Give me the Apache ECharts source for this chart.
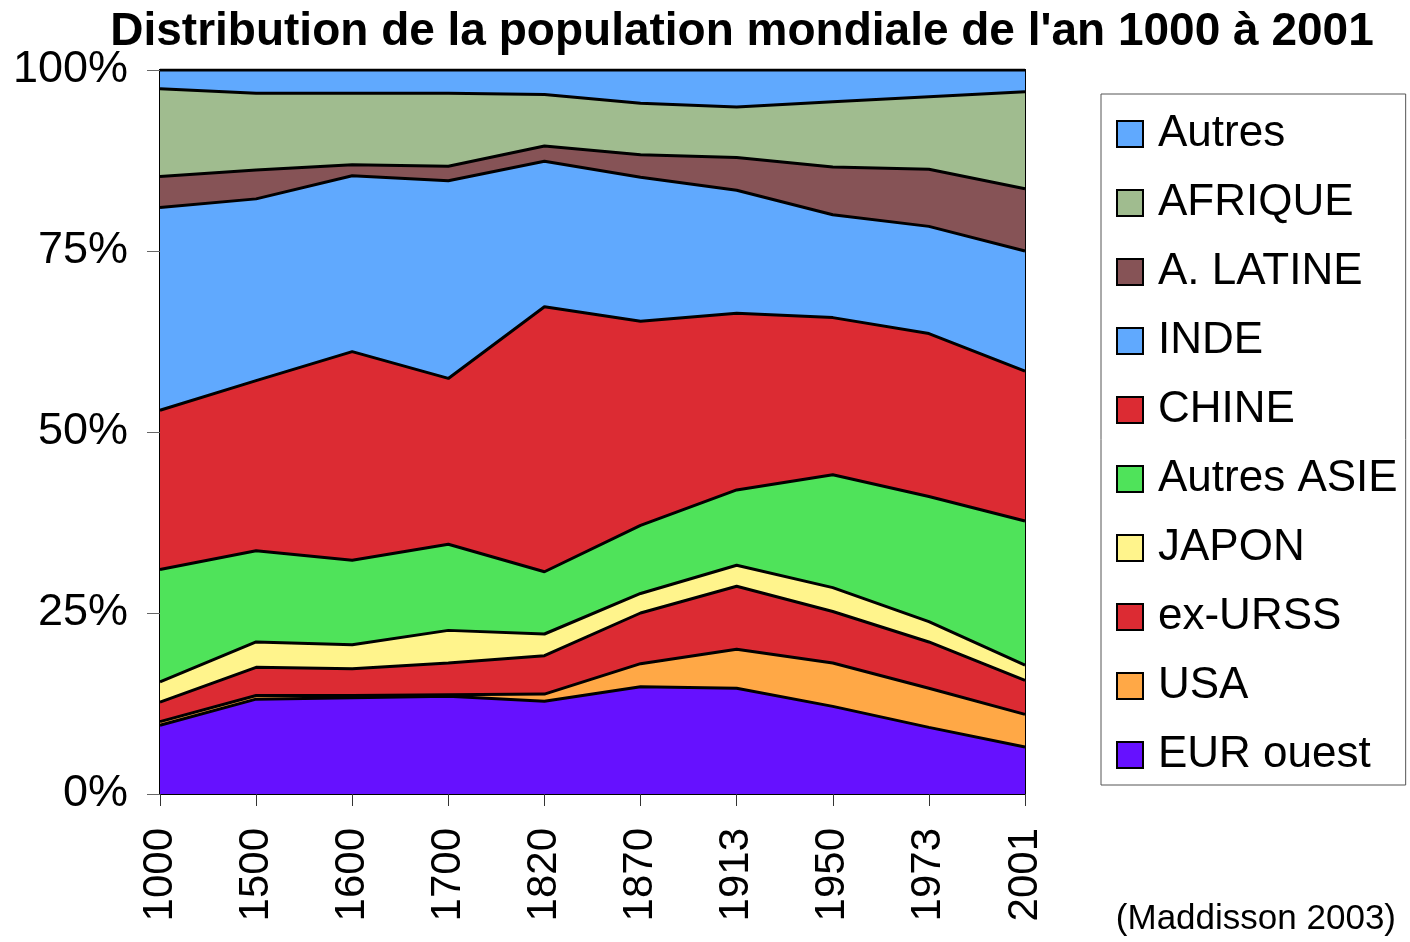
<!DOCTYPE html>
<html>
<head>
<meta charset="utf-8">
<script src="https://cdn.jsdelivr.net/npm/echarts@6/dist/echarts.min.js"></script>
<style>
  html, body { margin: 0; padding: 0; background: #fff; }
  #chart { width: 1410px; height: 942px; }
</style>
</head>
<body>
<div id="chart"></div>
<script>
// years on the x axis
const years = ['1000', '1500', '1600', '1700', '1820', '1870', '1913', '1950', '1973', '2001'];

// share of world population, %, bottom to top
const eurOuest   = [9.5, 13.1, 13.3, 13.5, 12.8, 14.8, 14.6, 12.1, 9.2, 6.5];
const usa        = [0.5, 0.5, 0.3, 0.2, 1.0, 3.2, 5.4, 6.0, 5.4, 4.5];
const exUrss     = [2.7, 3.9, 3.7, 4.4, 5.3, 7.0, 8.7, 7.1, 6.4, 4.7];
const japon      = [2.8, 3.5, 3.3, 4.5, 3.0, 2.7, 2.9, 3.3, 2.8, 2.1];
const autresAsie = [15.5, 12.6, 11.7, 11.9, 8.6, 9.4, 10.4, 15.6, 17.3, 19.9];
const chine      = [22.0, 23.5, 28.8, 22.9, 36.6, 28.2, 24.4, 21.7, 22.5, 20.7];
const inde       = [28.0, 25.1, 24.3, 27.3, 20.1, 19.9, 17.0, 14.2, 14.8, 16.6];
const aLatine    = [4.3, 4.0, 1.5, 2.0, 2.1, 3.1, 4.5, 6.6, 7.9, 8.6];
const afrique    = [12.1, 10.6, 9.9, 10.1, 7.1, 7.1, 7.0, 9.0, 10.0, 13.4];
const autres     = [2.6, 3.2, 3.2, 3.2, 3.4, 4.6, 5.1, 4.4, 3.7, 3.0];

const yTicks = [0, 25, 50, 75, 100];

const layers = [
  { name: 'EUR ouest', data: eurOuest, color: '#6611FF' },
  { name: 'USA', data: usa, color: '#FFA846' },
  { name: 'ex-URSS', data: exUrss, color: '#DC2B33' },
  { name: 'JAPON', data: japon, color: '#FFF48C' },
  { name: 'Autres ASIE', data: autresAsie, color: '#4FE35A' },
  { name: 'CHINE', data: chine, color: '#DC2B33' },
  { name: 'INDE', data: inde, color: '#60A9FE' },
  { name: 'A. LATINE', data: aLatine, color: '#865356' },
  { name: 'AFRIQUE', data: afrique, color: '#A0BC8F' },
  { name: 'Autres', data: autres, color: '#60A9FE' }
];

const font = '"Liberation Sans", Arial, sans-serif';
const chart = echarts.init(document.getElementById('chart'));

chart.setOption({
  animation: false,
  backgroundColor: '#fff',
  title: {
    text: "Distribution de la population mondiale de l'an 1000 à 2001",
    left: 737,
    textAlign: 'center',
    top: 4,
    textStyle: { fontFamily: font, fontSize: 46, fontWeight: 'bold', color: '#000' }
  },
  legend: {
    orient: 'vertical',
    left: 1101,
    top: 94,
    padding: [18, 8, 8, 15],
    backgroundColor: '#fff',
    borderColor: '#555',
    borderWidth: 1,
    icon: 'rect',
    itemWidth: 26,
    itemHeight: 26,
    itemGap: 25,
    selectedMode: false,
    itemStyle: { borderColor: '#000', borderWidth: 2 },
    textStyle: { fontFamily: font, fontSize: 44, lineHeight: 43, color: '#000', padding: [0, 0, 0, 10] },
    data: layers.map(l => l.name).reverse()
  },
  grid: {
    left: 160,
    right: 385,
    top: 70,
    bottom: 148,
    show: true,
    borderColor: '#000',
    borderWidth: 2,
    backgroundColor: 'transparent'
  },
  xAxis: {
    type: 'category',
    data: years,
    boundaryGap: false,
    axisLine: { lineStyle: { color: '#000', width: 2 } },
    axisTick: { length: 12, lineStyle: { color: '#333' } },
    axisLabel: { rotate: 90, margin: 34, fontFamily: font, fontSize: 42, color: '#000' }
  },
  yAxis: {
    type: 'value',
    min: 0,
    max: 100,
    interval: 25,
    splitLine: { show: false },
    axisLine: { show: true, lineStyle: { color: '#000', width: 2 } },
    axisTick: { show: true, length: 13, lineStyle: { color: '#666' } },
    axisLabel: {
      margin: 32,
      fontFamily: font,
      fontSize: 45,
      color: '#000',
      formatter: v => (yTicks.indexOf(v) >= 0 ? v + '%' : '')
    }
  },
  series: layers.map(l => ({
    name: l.name,
    type: 'line',
    stack: 'total',
    data: l.data,
    symbol: 'none',
    itemStyle: { color: l.color },
    lineStyle: { color: '#000', width: 3 },
    areaStyle: { color: l.color, opacity: 1 }
  })),
  graphic: [{
    type: 'text',
    right: 14,
    top: 902,
    style: { text: '(Maddisson 2003)', fontFamily: font, fontSize: 35, fill: '#000' }
  }]
});
</script>
</body>
</html>
